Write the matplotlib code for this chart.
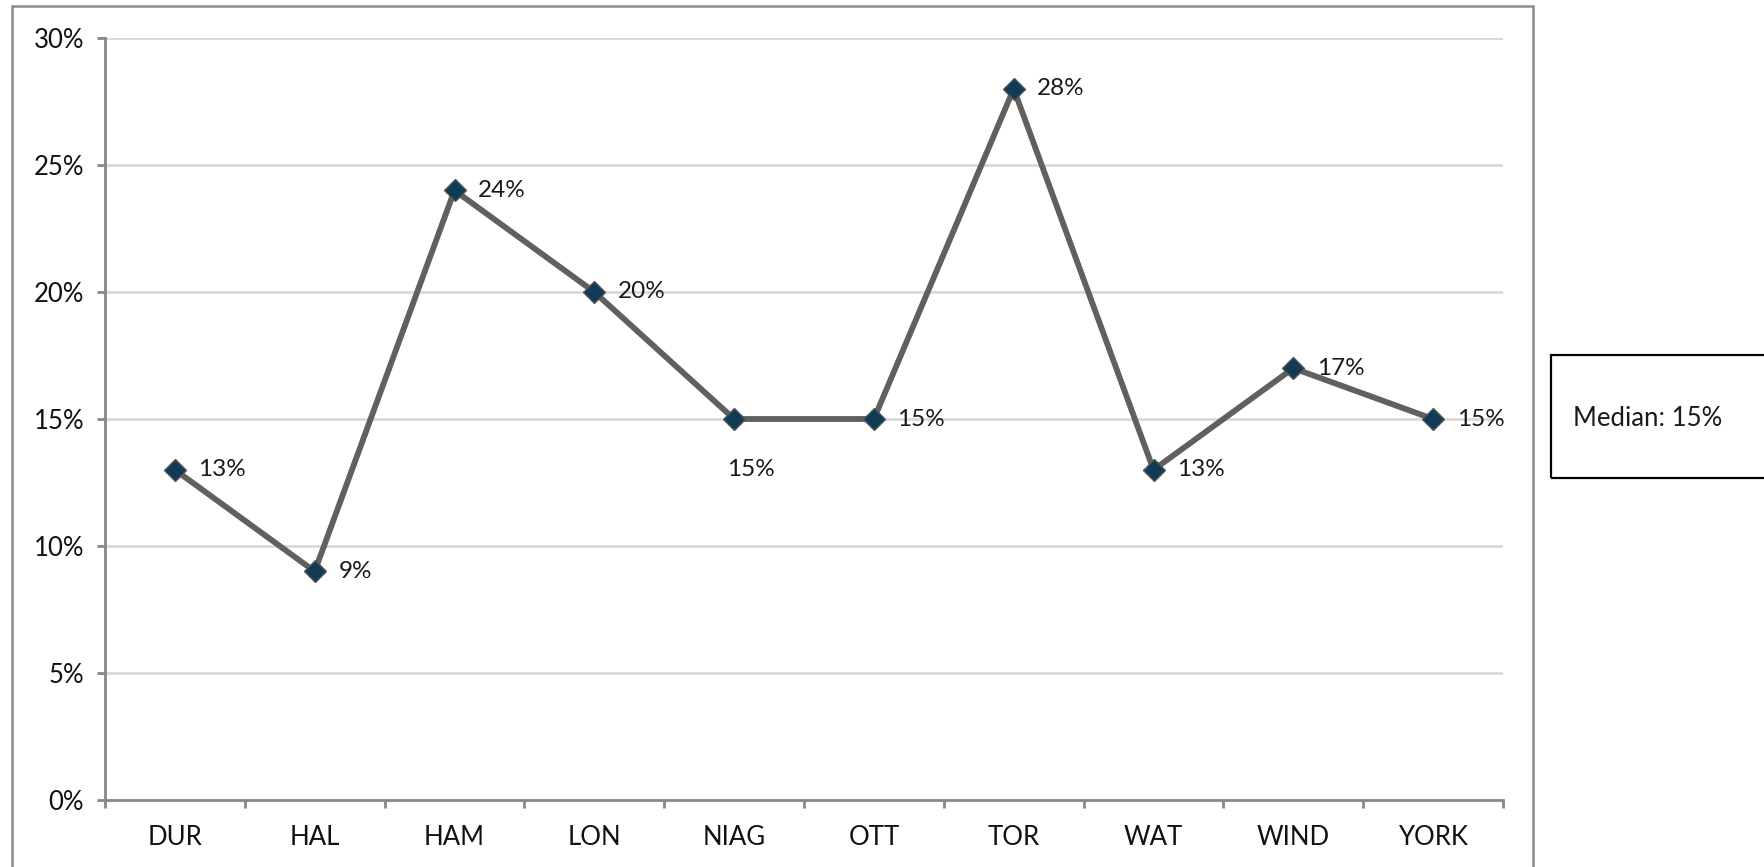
import matplotlib
matplotlib.use("Agg")
import matplotlib.pyplot as plt
from matplotlib.patches import Rectangle
from matplotlib.ticker import FixedLocator, PercentFormatter

# data
regions = ["DUR", "HAL", "HAM", "LON", "NIAG", "OTT", "TOR", "WAT", "WIND", "YORK"]
share = [13, 9, 24, 20, 15, 15, 28, 13, 17, 15]
median_text = "Median: 15%"

plt.rcParams["font.family"] = ["Lato", "DejaVu Sans"]

W, H = 1764, 867
fig = plt.figure(figsize=(W / 100, H / 100), dpi=100)
ax = fig.add_axes([105 / W, 1 - 800 / H, (1503 - 105) / W, (800 - 38) / H])

xs = [i + 0.5 for i in range(len(regions))]
ax.plot(xs, share, color="#606060", lw=4.2, zorder=3,
        marker="D", markersize=11, markerfacecolor="#0f3b55",
        markeredgecolor="#555555", markeredgewidth=1)

# data labels: right of the point, except NIAG which sits below
for i, (x, v) in enumerate(zip(xs, share)):
    if regions[i] == "NIAG":
        ax.annotate(f"{v}%", (x, v), xytext=(12, -36), textcoords="offset points",
                    ha="center", va="center", fontsize=17.5, color="#1a1a1a")
    else:
        ax.annotate(f"{v}%", (x, v), xytext=(17, 0), textcoords="offset points",
                    ha="left", va="center", fontsize=17.5, color="#1a1a1a")

ax.set_xlim(0, len(regions))
ax.set_ylim(0, 30)
ax.yaxis.set_major_locator(FixedLocator([0, 5, 10, 15, 20, 25, 30]))
ax.yaxis.set_major_formatter(PercentFormatter(decimals=0))
ax.grid(axis="y", color="#d9d9d9", lw=2, zorder=0)
ax.set_axisbelow(True)

ax.set_xticks(range(len(regions) + 1))
ax.set_xticklabels([])
ax.set_xticks(xs, minor=True)
ax.set_xticklabels(regions, minor=True)
ax.tick_params(axis="x", which="major", length=6, width=2, color="#888888")
ax.tick_params(axis="x", which="minor", length=0, pad=18, labelsize=18.5, labelcolor="#111111")
ax.tick_params(axis="y", length=6, width=2, color="#888888", pad=9,
               labelsize=18.5, labelcolor="#111111")

for s in ["top", "right"]:
    ax.spines[s].set_visible(False)
for s in ["left", "bottom"]:
    ax.spines[s].set_color("#888888")
    ax.spines[s].set_linewidth(2)

# outer chart frame and median box
fig.patches.append(Rectangle((12 / W, -0.05), (1533 - 12) / W, 1.05 - 6 / H,
                             transform=fig.transFigure, fill=False,
                             edgecolor="#8c8c8c", lw=1.8))
fig.patches.append(Rectangle((1551 / W, 1 - 478 / H), (1800 - 1551) / W, 123 / H,
                             transform=fig.transFigure, fill=False,
                             edgecolor="#000000", lw=1.6))
fig.text(1573 / W, 1 - 418 / H, median_text, ha="left", va="center",
         fontsize=18.5, color="#1a1a1a")

fig.savefig("out.png", dpi=100, facecolor="white")
